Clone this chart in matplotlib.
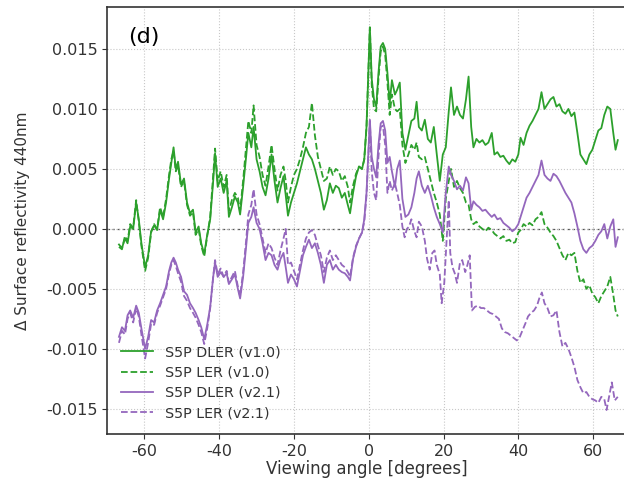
import matplotlib
matplotlib.use("Agg")
import matplotlib.pyplot as plt

# viewing angle grid (degrees) shared by three of the series
angle = [
    -66.8, -66.0, -65.2, -64.5, -63.8, -63.0, -62.2, -61.5, -60.8, -59.8,
    -59.0, -58.2, -57.4, -56.6, -55.8, -55.0, -54.2, -53.4, -52.8, -52.2,
    -51.6, -51.0, -50.2, -49.4, -48.6, -47.8, -47.0, -46.3, -45.5, -44.8,
    -44.0, -43.2, -42.4, -41.6, -41.1, -40.4, -39.6, -38.8, -38.0, -37.4,
    -36.6, -35.8, -35.0, -34.4, -33.6, -32.8, -32.2, -31.4, -30.8, -30.0,
    -29.2, -28.4, -27.6, -26.8, -26.0, -25.2, -24.4, -23.6, -22.8, -22.2,
    -21.6, -20.8, -20.0, -19.2, -18.4, -17.6, -16.8, -16.0, -15.2, -14.4,
    -13.6, -12.8, -12.0, -11.2, -10.4, -9.6, -8.8, -8.0, -7.2, -6.4,
    -5.6, -5.0, -4.2, -3.4, -2.6, -1.8, -1.2, -0.6, 0.0, 0.3,
    0.8, 1.4, 2.0, 2.6, 3.2, 3.8, 4.4, 5.0, 5.6, 6.2,
    7.0, 7.6, 8.3, 9.0, 9.8, 10.6, 11.4, 12.2, 12.8, 13.4,
    14.2, 15.0, 15.8, 16.6, 17.4, 18.2, 19.0, 19.8, 20.6, 21.4,
    22.0, 22.8, 23.6, 24.4, 25.2, 26.0, 26.7, 27.4, 28.0, 28.8,
    29.6, 30.4, 31.2, 32.0, 32.9, 33.6, 34.4, 35.2, 36.0, 36.8,
    37.6, 38.4, 39.2, 40.0, 40.6, 41.4, 42.2, 43.0, 43.8, 44.6,
    45.4, 46.2, 47.0, 47.8, 48.6, 49.4, 50.2, 51.0, 51.8, 52.6,
    53.4, 54.2, 55.0, 55.8, 56.6, 57.4, 58.2, 59.0, 59.8, 60.6,
    61.4, 62.2, 63.0, 63.8, 64.6, 65.4, 66.0, 66.6,
]

dler_v10 = [
    -0.0013, -0.0016, -0.0008, -0.0012, 0.0002, 0.0000, 0.0022, 0.0008, -0.0012, -0.0032,
    -0.0022, -0.0002, 0.0003, -0.0001, 0.0016, 0.0008, 0.0022, 0.0042, 0.0055, 0.0068,
    0.0050, 0.0056, 0.0037, 0.0042, 0.0022, 0.0013, 0.0016, -0.0003, 0.0002, -0.0012,
    -0.0021, -0.0005, 0.0008, 0.0040, 0.0063, 0.0035, 0.0042, 0.0030, 0.0040, 0.0010,
    0.0018, 0.0027, 0.0022, 0.0012, 0.0035, 0.0060, 0.0080, 0.0068, 0.0085, 0.0058,
    0.0048, 0.0035, 0.0028, 0.0042, 0.0062, 0.0040, 0.0022, 0.0034, 0.0044, 0.0028,
    0.0011, 0.0022, 0.0030, 0.0038, 0.0048, 0.0058, 0.0068, 0.0062, 0.0058, 0.0050,
    0.0040, 0.0030, 0.0016, 0.0024, 0.0038, 0.0030, 0.0036, 0.0034, 0.0026, 0.0030,
    0.0020, 0.0013, 0.0030, 0.0044, 0.0052, 0.0050, 0.0058, 0.0085, 0.0140, 0.0168,
    0.0125, 0.0108, 0.0102, 0.0130, 0.0152, 0.0155, 0.0150, 0.0130, 0.0105, 0.0124,
    0.0112, 0.0116, 0.0122, 0.0080, 0.0066, 0.0078, 0.0090, 0.0092, 0.0106, 0.0085,
    0.0082, 0.0091, 0.0075, 0.0072, 0.0085, 0.0062, 0.0040, 0.0062, 0.0068, 0.0098,
    0.0118, 0.0095, 0.0102, 0.0095, 0.0092, 0.0108, 0.0127, 0.0085, 0.0068, 0.0075,
    0.0072, 0.0074, 0.0070, 0.0072, 0.0080, 0.0062, 0.0064, 0.0060, 0.0061, 0.0057,
    0.0054, 0.0058, 0.0056, 0.0062, 0.0076, 0.0070, 0.0080, 0.0086, 0.0090, 0.0095,
    0.0100, 0.0114, 0.0100, 0.0104, 0.0108, 0.0110, 0.0102, 0.0104, 0.0098, 0.0096,
    0.0100, 0.0094, 0.0097, 0.0080, 0.0062, 0.0058, 0.0054, 0.0062, 0.0066, 0.0074,
    0.0082, 0.0084, 0.0095, 0.0102, 0.0100, 0.0080, 0.0066, 0.0074,
]

ler_v10 = [
    -0.0015, -0.0017, -0.0006, -0.0010, 0.0004, 0.0001, 0.0024, 0.0006, -0.0014, -0.0035,
    -0.0024, -0.0003, 0.0004, 0.0000, 0.0018, 0.0010, 0.0025, 0.0045, 0.0058, 0.0065,
    0.0048, 0.0053, 0.0035, 0.0040, 0.0020, 0.0011, 0.0014, -0.0005, 0.0000, -0.0014,
    -0.0023, -0.0006, 0.0010, 0.0045, 0.0067, 0.0040, 0.0048, 0.0035, 0.0045, 0.0015,
    0.0024, 0.0030, 0.0026, 0.0015, 0.0040, 0.0068, 0.0090, 0.0080, 0.0103, 0.0070,
    0.0060, 0.0045, 0.0036, 0.0052, 0.0070, 0.0050, 0.0032, 0.0045, 0.0052, 0.0040,
    0.0022, 0.0035, 0.0045, 0.0050, 0.0058, 0.0068, 0.0080, 0.0085, 0.0105, 0.0078,
    0.0060, 0.0050, 0.0040, 0.0042, 0.0052, 0.0045, 0.0050, 0.0048, 0.0040, 0.0044,
    0.0035, 0.0022, 0.0036, 0.0046, 0.0052, 0.0050, 0.0058, 0.0085, 0.0140, 0.0168,
    0.0120, 0.0100, 0.0098, 0.0125, 0.0148, 0.0152, 0.0145, 0.0122, 0.0095, 0.0112,
    0.0100, 0.0098, 0.0100, 0.0070, 0.0055, 0.0062, 0.0070, 0.0066, 0.0072, 0.0060,
    0.0058, 0.0060, 0.0050, 0.0040, 0.0030, 0.0022, 0.0012, -0.0010, 0.0025, 0.0040,
    0.0050, 0.0035, 0.0040, 0.0034, 0.0030, 0.0022, 0.0020, 0.0008, 0.0004, 0.0006,
    0.0002, 0.0000, -0.0002, 0.0001, -0.0001, -0.0004, -0.0006, -0.0008, -0.0006, -0.0010,
    -0.0009, -0.0012, -0.0011, -0.0003, -0.0001, 0.0004, 0.0002, 0.0005, 0.0003, 0.0008,
    0.0010, 0.0014, 0.0004, 0.0001, -0.0003, -0.0006, -0.0010, -0.0016, -0.0022, -0.0026,
    -0.0020, -0.0022, -0.0020, -0.0035, -0.0045, -0.0042, -0.0050, -0.0047, -0.0054, -0.0057,
    -0.0062, -0.0056, -0.0052, -0.0048, -0.0040, -0.0055, -0.0068, -0.0073,
]

dler_v21 = [
    -0.0090, -0.0082, -0.0085, -0.0072, -0.0068, -0.0074, -0.0064, -0.0070, -0.0083, -0.0100,
    -0.0090, -0.0076, -0.0078, -0.0068, -0.0062, -0.0055, -0.0048, -0.0035, -0.0028, -0.0024,
    -0.0028, -0.0034, -0.0040, -0.0052, -0.0055, -0.0062, -0.0066, -0.0070, -0.0076, -0.0082,
    -0.0092, -0.0080, -0.0065, -0.0040, -0.0028, -0.0040, -0.0036, -0.0040, -0.0037, -0.0046,
    -0.0042, -0.0038, -0.0050, -0.0058, -0.0040, -0.0015, 0.0005, 0.0010, 0.0018, 0.0005,
    0.0000, -0.0012, -0.0026, -0.0020, -0.0022, -0.0030, -0.0034, -0.0025, -0.0020, -0.0032,
    -0.0045, -0.0038, -0.0042, -0.0048, -0.0035, -0.0022, -0.0015, -0.0009, -0.0016, -0.0012,
    -0.0020, -0.0030, -0.0045, -0.0030, -0.0026, -0.0034, -0.0030, -0.0034, -0.0036, -0.0037,
    -0.0040, -0.0043, -0.0025, -0.0015, -0.0008, -0.0003, 0.0008, 0.0030, 0.0070, 0.0091,
    0.0060, 0.0050, 0.0043, 0.0070, 0.0088, 0.0090, 0.0082, 0.0055, 0.0060, 0.0048,
    0.0035, 0.0050, 0.0057, 0.0025, 0.0010, 0.0012, 0.0018, 0.0030, 0.0042, 0.0048,
    0.0036, 0.0030, 0.0036, 0.0028, 0.0018, 0.0010, 0.0004, -0.0003, 0.0030, 0.0052,
    0.0045, 0.0040, 0.0033, 0.0036, 0.0032, 0.0043, 0.0038, 0.0016, 0.0023, 0.0020,
    0.0018, 0.0015, 0.0016, 0.0013, 0.0010, 0.0012, 0.0008, 0.0009, 0.0005, 0.0003,
    0.0001, -0.0002, 0.0000, 0.0004, 0.0010, 0.0018, 0.0026, 0.0030, 0.0035, 0.0040,
    0.0045, 0.0057, 0.0045, 0.0042, 0.0040, 0.0046, 0.0044, 0.0040, 0.0035, 0.0030,
    0.0026, 0.0022, 0.0013, 0.0002, -0.0010, -0.0017, -0.0020, -0.0016, -0.0014, -0.0010,
    -0.0005, -0.0002, 0.0004, -0.0008, 0.0002, 0.0008, -0.0015, -0.0007,
]

# LER v2.1 diverges after ~8 deg, so it gets its own tail
angle_ler21 = angle[:103] + [
    9.0, 9.6, 10.2, 10.8, 11.4, 12.2, 12.8, 13.4, 14.2, 15.0,
    15.6, 16.3, 17.0, 17.6, 18.2, 19.0, 19.5, 20.2, 20.8, 21.4,
    21.8, 22.4, 23.0, 23.6, 24.4, 25.0, 25.8, 26.4, 27.0, 27.6,
    28.4, 29.2, 30.0, 30.8, 31.6, 32.4, 33.2, 34.0, 34.8, 35.6,
    36.4, 37.2, 38.0, 38.8, 39.6, 40.4, 41.2, 42.0, 42.6, 43.4,
    44.2, 45.0, 45.6, 46.3, 47.0, 47.8, 48.6, 49.4, 50.2, 51.0,
    51.8, 52.6, 53.4, 54.2, 55.0, 55.8, 56.6, 57.4, 58.2, 59.0,
    59.8, 60.6, 61.4, 62.2, 63.0, 63.6, 64.4, 65.0, 65.8, 66.6,
]

ler_v21 = [
    -0.0095, -0.0085, -0.0088, -0.0075, -0.0070, -0.0078, -0.0066, -0.0073, -0.0088, -0.0108,
    -0.0095, -0.0079, -0.0080, -0.0070, -0.0064, -0.0057, -0.0050, -0.0037, -0.0030, -0.0026,
    -0.0031, -0.0037, -0.0044, -0.0056, -0.0060, -0.0066, -0.0070, -0.0074, -0.0080, -0.0086,
    -0.0096, -0.0083, -0.0066, -0.0040, -0.0026, -0.0038, -0.0033, -0.0040, -0.0035, -0.0045,
    -0.0040, -0.0035, -0.0048, -0.0056, -0.0036, -0.0010, 0.0012, 0.0020, 0.0033, 0.0012,
    0.0004, -0.0008, -0.0020, -0.0012, -0.0016, -0.0024, -0.0030, -0.0018, -0.0008, 0.0000,
    -0.0030, -0.0028, -0.0035, -0.0042, -0.0030, -0.0018, -0.0008, -0.0003, -0.0001, -0.0005,
    -0.0014, -0.0022, -0.0036, -0.0024, -0.0018, -0.0026, -0.0022, -0.0026, -0.0030, -0.0032,
    -0.0036, -0.0040, -0.0024, -0.0014, -0.0008, -0.0003, 0.0006, 0.0028, 0.0068, 0.0090,
    0.0048, 0.0030, 0.0024, 0.0060, 0.0085, 0.0086, 0.0070, 0.0030, 0.0040, 0.0032,
    0.0038, 0.0030, 0.0020,
    0.0002, -0.0007, 0.0000, 0.0002, 0.0008, -0.0002, -0.0007, 0.0006, 0.0002, -0.0010,
    -0.0025, -0.0034, -0.0020, -0.0018, -0.0030, -0.0038, -0.0062, -0.0045, -0.0010, 0.0024,
    -0.0020, -0.0032, -0.0037, -0.0045, -0.0028, -0.0026, -0.0036, -0.0030, -0.0022, -0.0068,
    -0.0065, -0.0064, -0.0066, -0.0066, -0.0068, -0.0070, -0.0071, -0.0073, -0.0075, -0.0083,
    -0.0086, -0.0087, -0.0089, -0.0091, -0.0093, -0.0090, -0.0084, -0.0078, -0.0073, -0.0070,
    -0.0068, -0.0064, -0.0058, -0.0053, -0.0062, -0.0066, -0.0073, -0.0072, -0.0068, -0.0086,
    -0.0098, -0.0095, -0.0100, -0.0107, -0.0115, -0.0126, -0.0132, -0.0137, -0.0136, -0.0140,
    -0.0142, -0.0143, -0.0145, -0.0140, -0.0142, -0.0151, -0.0138, -0.0128, -0.0143, -0.0140,
]

x_ticks = [-60, -40, -20, 0, 20, 40, 60]
x_tick_labels = ["-60", "-40", "-20", "0", "20", "40", "60"]
y_ticks = [-0.015, -0.010, -0.005, 0.0, 0.005, 0.010, 0.015]

assert len(angle) == len(dler_v10) == len(ler_v10) == len(dler_v21)
assert len(angle_ler21) == len(ler_v21)

GREEN = "#2ca02c"
PURPLE = "#9467bd"
INK = "#333333"

fig = plt.figure(figsize=(6.24, 4.8), dpi=100)
ax = fig.add_axes([107 / 624, 46 / 480, 519 / 624, 427 / 480])

ax.grid(True, color="#c8c8c8", linestyle=":", linewidth=0.8)
ax.axhline(0, color="#555555", linestyle=(0, (2, 2)), linewidth=0.9, zorder=1)

ax.plot(angle, dler_v10, color=GREEN, linewidth=1.3, label="S5P DLER (v1.0)")
ax.plot(angle, ler_v10, color=GREEN, linewidth=1.3, linestyle="--", label="S5P LER (v1.0)")
ax.plot(angle, dler_v21, color=PURPLE, linewidth=1.3, label="S5P DLER (v2.1)")
ax.plot(angle_ler21, ler_v21, color=PURPLE, linewidth=1.3, linestyle="--", label="S5P LER (v2.1)")

ax.set_xlim(-70, 68.8)
ax.set_ylim(-0.0171, 0.0185)
ax.set_xticks(x_ticks)
ax.set_xticklabels(x_tick_labels)
ax.set_yticks(y_ticks)
ax.yaxis.set_major_formatter(matplotlib.ticker.FormatStrFormatter("%.3f"))
ax.tick_params(labelsize=11.5, color=INK, labelcolor=INK)
for spine in ax.spines.values():
    spine.set_color(INK)
    spine.set_linewidth(1.2)

ax.set_xlabel("Viewing angle [degrees]", fontsize=12, color=INK, labelpad=1)
ax.set_ylabel("Δ Surface reflectivity 440nm", fontsize=11, color=INK, labelpad=11)
ax.text(0.04, 0.93, "(d)", transform=ax.transAxes, fontsize=16, va="center")

ax.legend(loc="lower left", frameon=False, fontsize=10.3, labelspacing=0.45,
          borderaxespad=0.55, handlelength=2.3, labelcolor=INK)

fig.savefig("out.png", dpi=100)
